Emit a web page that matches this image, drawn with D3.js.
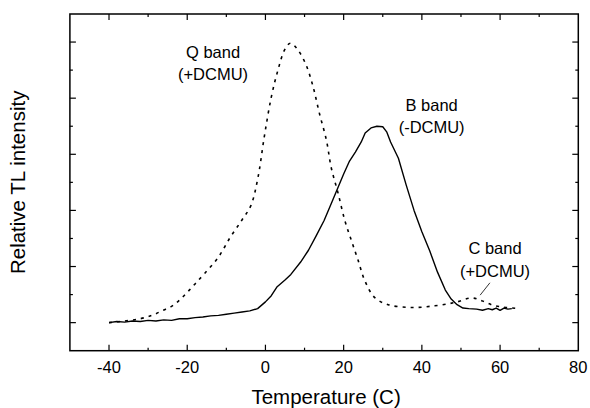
<!DOCTYPE html>
<html>
<head>
<meta charset="utf-8">
<script src="https://cdn.jsdelivr.net/npm/d3@7"></script>
<style>
  html, body { margin: 0; padding: 0; background: #fff; }
  svg { display: block; font-family: "Liberation Sans", Arial, sans-serif; }
</style>
</head>
<body>
<svg id="chart" width="590" height="408"></svg>
<script>
// ---- Data ----
const bBandTemp = [-40,-38,-36,-34,-32,-30,-28,-26,-24,-22,-20,-18,-16,-14,-12,-10,-8,-6,-4,-2,0,1.5,3,5,6.5,9,11,13,15,17,18.5,20,21.5,23,24.5,25.5,27,28.5,30,31,32,34,36,38,40,42,44,46,47.5,49,50.5,52,54,55.5,57,58,59,60,61,62,63];
const bBandValue = [0.00,0.02,0.01,0.03,0.02,0.04,0.03,0.05,0.04,0.07,0.07,0.09,0.10,0.12,0.13,0.15,0.17,0.19,0.21,0.25,0.37,0.48,0.64,0.76,0.86,1.08,1.29,1.55,1.82,2.15,2.40,2.65,2.88,3.04,3.22,3.38,3.47,3.50,3.49,3.40,3.22,2.93,2.45,2.00,1.62,1.28,0.90,0.58,0.42,0.32,0.26,0.25,0.24,0.22,0.25,0.23,0.26,0.22,0.26,0.24,0.25];

const qBandTemp = [-40,-36,-32,-29,-26.5,-24,-22,-20,-18,-15.5,-12,-9,-6,-3.7,-1.9,-0.3,1.5,3.2,4.9,6.4,8.3,10.4,12.2,13.8,15.6,16.8,18.6,20.3,22,23.7,25.4,27.9,31.4,37.4,43.3,48.5,52.7,55.3,58.7,65];
const qBandValue = [0.00,0.03,0.07,0.13,0.21,0.29,0.40,0.54,0.69,0.88,1.17,1.52,1.83,2.09,2.59,3.31,4.02,4.50,4.86,4.98,4.86,4.59,4.20,3.73,3.25,2.77,2.30,1.82,1.46,1.11,0.75,0.45,0.32,0.27,0.30,0.36,0.44,0.39,0.30,0.25];

const xTickLabels = [-40, -20, 0, 20, 40, 60, 80];
const xDomain = [-50, 80];
const yDomain = [-0.5, 5.5];

const labelTexts = [["Q band", "(+DCMU)"], ["B band", "(-DCMU)"], ["C band", "(+DCMU)"]];
const labelAnchorT = [-13.4, 42.5, 58.7];
const labelAnchorV = [4.72, 3.78, 1.22];
const pointerT = [57.4, 54.9];
const pointerV = [0.71, 0.49];

// ---- Layout ----
const svg = d3.select("#chart");
const pLeft = 69.9, pRight = 578.3, pTop = 14, pBottom = 350.7;
const x = d3.scaleLinear().domain(xDomain).range([pLeft, pRight]);
const y = d3.scaleLinear().domain(yDomain).range([pBottom, pTop]);

// frame
svg.append("rect")
  .attr("x", pLeft).attr("y", pTop)
  .attr("width", pRight - pLeft).attr("height", pBottom - pTop)
  .attr("fill", "none").attr("stroke", "#000").attr("stroke-width", 1.5);

const xMajor = d3.range(-40, 81, 20);
const xMinor = d3.range(-50, 81, 10).filter(v => !xMajor.includes(v) && v > -50 && v < 80);
const yMajor = d3.range(0, 5.01, 1);
const yMinor = d3.range(0.5, 5.0, 1);

const tickG = svg.append("g").attr("stroke", "#000").attr("stroke-width", 1.2);
function xTicks(vals, len) {
  vals.forEach(v => {
    tickG.append("line").attr("x1", x(v)).attr("x2", x(v)).attr("y1", pBottom).attr("y2", pBottom - len);
    tickG.append("line").attr("x1", x(v)).attr("x2", x(v)).attr("y1", pTop).attr("y2", pTop + len);
  });
}
function yTicks(vals, len) {
  vals.forEach(v => {
    tickG.append("line").attr("y1", y(v)).attr("y2", y(v)).attr("x1", pLeft).attr("x2", pLeft + len);
    tickG.append("line").attr("y1", y(v)).attr("y2", y(v)).attr("x1", pRight).attr("x2", pRight - len);
  });
}
xTicks(xMajor.filter(v => v < 80), 6);
xTicks(xMinor, 3);
yTicks(yMajor, 6);
yTicks(yMinor, 3);

// x tick labels
svg.append("g").selectAll("text").data(xTickLabels).join("text")
  .attr("x", d => x(d)).attr("y", 372.5)
  .attr("text-anchor", "middle")
  .attr("font-size", 16.5)
  .attr("fill", "#000")
  .text(d => d);

// axis titles
svg.append("text")
  .attr("x", (pLeft + pRight) / 2 + 2).attr("y", 403.5)
  .attr("text-anchor", "middle").attr("font-size", 20.5).attr("fill", "#000")
  .text("Temperature (C)");
svg.append("text")
  .attr("transform", `translate(24.5,${(pTop + pBottom) / 2}) rotate(-90)`)
  .attr("text-anchor", "middle").attr("font-size", 20.5).attr("fill", "#000")
  .text("Relative TL intensity");

// curves
const qData = qBandTemp.map((t, i) => [t, qBandValue[i]]);
const bData = bBandTemp.map((t, i) => [t, bBandValue[i]]);
const lineSmooth = d3.line().x(d => x(d[0])).y(d => y(d[1])).curve(d3.curveCatmullRom);
const lineRaw = d3.line().x(d => x(d[0])).y(d => y(d[1])).curve(d3.curveLinear);

svg.append("path").datum(qData)
  .attr("d", lineSmooth)
  .attr("fill", "none").attr("stroke", "#000").attr("stroke-width", 1.6)
  .attr("stroke-dasharray", "3,5");
svg.append("path").datum(bData)
  .attr("d", lineRaw)
  .attr("fill", "none").attr("stroke", "#000").attr("stroke-width", 1.4)
  .attr("stroke-linejoin", "round");

// annotations
labelTexts.forEach((lines, i) => {
  const t = svg.append("text")
    .attr("x", x(labelAnchorT[i])).attr("y", y(labelAnchorV[i]))
    .attr("text-anchor", "middle").attr("font-size", 16.5).attr("fill", "#000");
  lines.forEach((s, j) => {
    t.append("tspan").attr("x", x(labelAnchorT[i])).attr("dy", j === 0 ? 0 : 22.5).text(s);
  });
});
svg.append("line")
  .attr("x1", x(pointerT[0])).attr("y1", y(pointerV[0]))
  .attr("x2", x(pointerT[1])).attr("y2", y(pointerV[1]))
  .attr("stroke", "#000").attr("stroke-width", 0.8);
</script>
</body>
</html>
